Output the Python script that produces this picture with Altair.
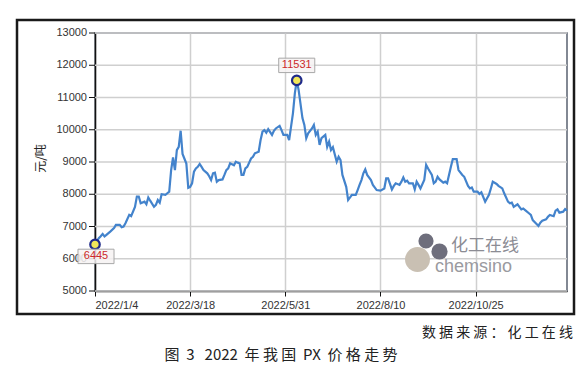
import altair as alt
import pandas as pd

# ---- data (trading-day index, price in 元/吨) ----
idx = [0, 2, 3, 4, 5, 6, 8, 10, 11, 13, 14, 15, 16, 18, 19, 21, 22, 23, 24, 26, 27, 28, 29, 31, 32, 33, 34, 35,
       37, 38, 39, 40, 41, 42, 43, 44, 45, 46, 47, 48, 49, 50, 51, 52, 53, 54, 55, 56, 57, 59, 60, 61, 62, 63,
       64, 65, 67, 68, 69, 70, 71, 73, 74, 75, 76, 77, 78, 79, 80, 82, 83, 84, 86, 87, 88, 89, 90, 91, 93, 94,
       95, 97, 98, 99, 100, 101, 102, 104, 105, 106, 107, 109, 110, 111, 112, 114, 115, 116, 117, 118, 119,
       121, 122, 123, 124, 125, 127, 128, 129, 130, 132, 133, 135, 137, 138, 139, 140, 141, 142, 143, 145,
       146, 148, 150, 152, 153, 154, 156, 157, 158, 160, 161, 162, 163, 164, 165, 167, 168, 169, 170, 171,
       173, 174, 175, 177, 178, 179, 180, 181, 183, 184, 185, 187, 188, 190, 191, 193, 194, 196, 197, 198,
       199, 201, 202, 203, 205, 207, 208, 209, 211, 212, 214, 215, 217, 218, 219, 220, 222, 223, 224, 225,
       226, 228, 229, 230, 232, 233, 234, 235, 237, 238, 239, 241, 242, 243, 244, 246, 247, 248]
price = [6445, 6640, 6700, 6770, 6690, 6740, 6840, 6950, 7050, 7050, 6980, 7000, 7100, 7360, 7320, 7610, 7930,
         7930, 7720, 7770, 7690, 7900, 7800, 7610, 7670, 7820, 7740, 8000, 7980, 8030, 8080, 8750, 9140, 8750,
         9370, 9470, 9970, 9250, 9100, 8950, 8200, 8230, 8340, 8700, 8800, 8850, 8940, 8850, 8750, 8650, 8560,
         8440, 8650, 8670, 8390, 8440, 8460, 8600, 8750, 8800, 8960, 8900, 9010, 8980, 8960, 8600, 8600, 8800,
         8850, 9110, 9160, 9270, 9320, 9680, 9940, 9990, 9910, 10020, 9840, 9970, 10040, 10120, 9990, 9840,
         9840, 9840, 9680, 10510, 11130, 11531, 11230, 10360, 10150, 9740, 9890, 10040, 10150, 9840, 9940,
         9530, 9740, 9840, 9470, 9630, 9370, 9460, 9010, 9160, 9060, 8600, 8230, 7820, 7980, 7980, 8130, 8290,
         8440, 8650, 8770, 8600, 8440, 8290, 8130, 8110, 8180, 8490, 8490, 8150, 8260, 8340, 8290, 8390, 8520,
         8390, 8420, 8340, 8340, 8150, 8390, 8290, 8180, 8440, 8910, 8800, 8600, 8340, 8390, 8540, 8460, 8360,
         8390, 8340, 8850, 9090, 9090, 8750, 8600, 8540, 8260, 8180, 8210, 8080, 8080, 8010, 8060, 7770, 7980,
         8180, 8390, 8320, 8260, 8180, 8030, 7770, 7720, 7740, 7610, 7690, 7610, 7530, 7560, 7510, 7410, 7360,
         7200, 7080, 7020, 7120, 7180, 7220, 7300, 7360, 7320, 7490, 7530, 7430, 7460, 7540, 7490]

tick_idx = [0, 50, 100, 150, 200]
tick_labels = ["2022/1/4", "2022/3/18", "2022/5/31", "2022/8/10", "2022/10/25"]
y_ticks = [5000, 6000, 7000, 8000, 9000, 10000, 11000, 12000, 13000]
y_title = "元/吨"
ann_idx = [0, 106]
ann_val = [6445, 11531]
NB = "\u00a0"
source_text = NB.join(["数", "据", "来", "源", "：", "化", "工", "在", "线"])
title_text = ("图" + NB * 2 + "3" + NB * 3 + "2022" + NB * 2 + "年" + NB + "我" + NB + "国" + NB * 2 + "PX"
              + NB * 2 + "价" + NB + "格" + NB + "走" + NB + "势")
wm_cn = "化工在线"
wm_en = "chemsino"

df = pd.DataFrame({"idx": idx, "price": price})
ann = pd.DataFrame({"idx": ann_idx, "price": ann_val, "label": [str(v) for v in ann_val]})
yt = pd.DataFrame({"price": y_ticks, "label": [str(v) for v in y_ticks]})

label_expr = " : ".join(f"datum.value == {k} ? '{v}'" for k, v in zip(tick_idx, tick_labels)) + " : ''"

FONT = "Liberation Sans"
CJK = "Noto Sans CJK SC"
GRID = "#cfcfcf"

xs = alt.Scale(domain=[0, 248], nice=False, zero=False)
ys = alt.Scale(domain=[5000, 13000], nice=False, zero=False)

x_axis = alt.Axis(values=tick_idx, labelExpr=label_expr, title=None, grid=True,
                  gridColor=GRID, gridWidth=1.5, domainColor="#111111", domainWidth=1.5,
                  tickColor="#111111", tickSize=5, labelFont=FONT, labelFontSize=11,
                  labelColor="#333333", labelPadding=3, labelOverlap=False)
y_axis = alt.Axis(title=y_title, grid=False, labels=False, ticks=False,
                  domainColor="#111111", domainWidth=1.5,
                  titleFont=CJK, titleFontSize=12, titleFontWeight="normal", titleColor="#222222",
                  titleX=-55, titleY=125, titleAngle=-90, titleAlign="center", titleBaseline="middle")

X = alt.X("idx:Q", scale=xs, axis=x_axis)
Y = alt.Y("price:Q", scale=ys, axis=y_axis)

one = alt.Data(values=[{}])

# horizontal gridlines, y ticks and y tick labels drawn from y_ticks through the y scale
ygrid = alt.Chart(yt).mark_rule(color=GRID, strokeWidth=1.5).encode(
    y=Y, x=alt.value(0), x2=alt.value(472))
ytick = alt.Chart(yt).mark_rule(color="#111111", strokeWidth=1).encode(
    y=Y, x=alt.value(-6), x2=alt.value(0))
ylab = alt.Chart(yt).mark_text(font=FONT, fontSize=11, color="#333333", align="right",
                               baseline="middle").encode(y=Y, x=alt.value(-8), text="label:N")

line = alt.Chart(df).mark_line(color="#4383cc", strokeWidth=2.2).encode(x=X, y=Y)

marker = alt.Chart(ann).mark_point(shape="circle", filled=True, fill="#f1e65a", stroke="#1f2a8a",
                                   strokeWidth=2.2, size=90, opacity=1).encode(x=X, y=Y)

box_path = "M-1,-0.4L1,-0.4L1,0.4L-1,0.4Z"

def ann_layer(i, dx, dy):
    base = alt.Chart(ann).transform_filter(alt.datum.idx == ann_idx[i])
    box = base.mark_point(shape=box_path, size=1300, filled=True, fill="#f6f2f2", fillOpacity=0.85,
                          stroke="#a8a8a8", strokeWidth=1, xOffset=dx, yOffset=dy, opacity=1).encode(
        x=X, y=Y)
    txt = base.mark_text(font=FONT, fontSize=11, color="#cc2a2a", xOffset=dx, yOffset=dy,
                         align="center", baseline="middle").encode(x=X, y=Y, text="label:N")
    return box + txt

frame = alt.Chart(one).mark_rect(fill=None, stroke="#1a1a1a", strokeWidth=2.5).encode(
    x=alt.value(-78), x2=alt.value(479), y=alt.value(-13), y2=alt.value(281))

logo_big = alt.Chart(one).mark_point(shape="circle", filled=True, color="#c9c0b3", size=620, opacity=1).encode(
    x=alt.value(322.5), y=alt.value(226.5))
logo_d1 = alt.Chart(one).mark_point(shape="circle", filled=True, color="#6e6e7c", size=230, opacity=1).encode(
    x=alt.value(331), y=alt.value(208))
logo_d2 = alt.Chart(one).mark_point(shape="circle", filled=True, color="#6e6e7c", size=260, opacity=1).encode(
    x=alt.value(344.5), y=alt.value(218.5))
wm1 = alt.Chart(one).mark_text(text=wm_cn, font=CJK, fontSize=17, color="#8c8c94", align="left",
                               baseline="middle").encode(x=alt.value(356), y=alt.value(213))
wm2 = alt.Chart(one).mark_text(text=wm_en, font=FONT, fontSize=18, color="#9a9aa0", align="left",
                               baseline="middle").encode(x=alt.value(340), y=alt.value(234))

src = alt.Chart(one).mark_text(text=source_text, font=CJK, fontSize=14, color="#222222", align="right",
                               baseline="middle").encode(x=alt.value(478), y=alt.value(300))
ttl = alt.Chart(one).mark_text(text=title_text, font=CJK, fontSize=15, color="#222222", align="center",
                               baseline="middle").encode(x=alt.value(186), y=alt.value(322))

chart = alt.layer(
    ygrid,
    line,
    ytick, ylab,
    logo_big, logo_d1, logo_d2, wm1, wm2,
    marker,
    ann_layer(0, 1, 12), ann_layer(1, 0, -15),
    frame, src, ttl,
).properties(
    width=472, height=258,
    autosize=alt.AutoSizeParams(type="none"),
    padding={"left": 87, "top": 25, "right": 10, "bottom": 80},
    background="white",
).configure_view(stroke="#5a6270", strokeWidth=1.5)

chart.save("out.html", embed_options={"renderer": "svg", "actions": False})
